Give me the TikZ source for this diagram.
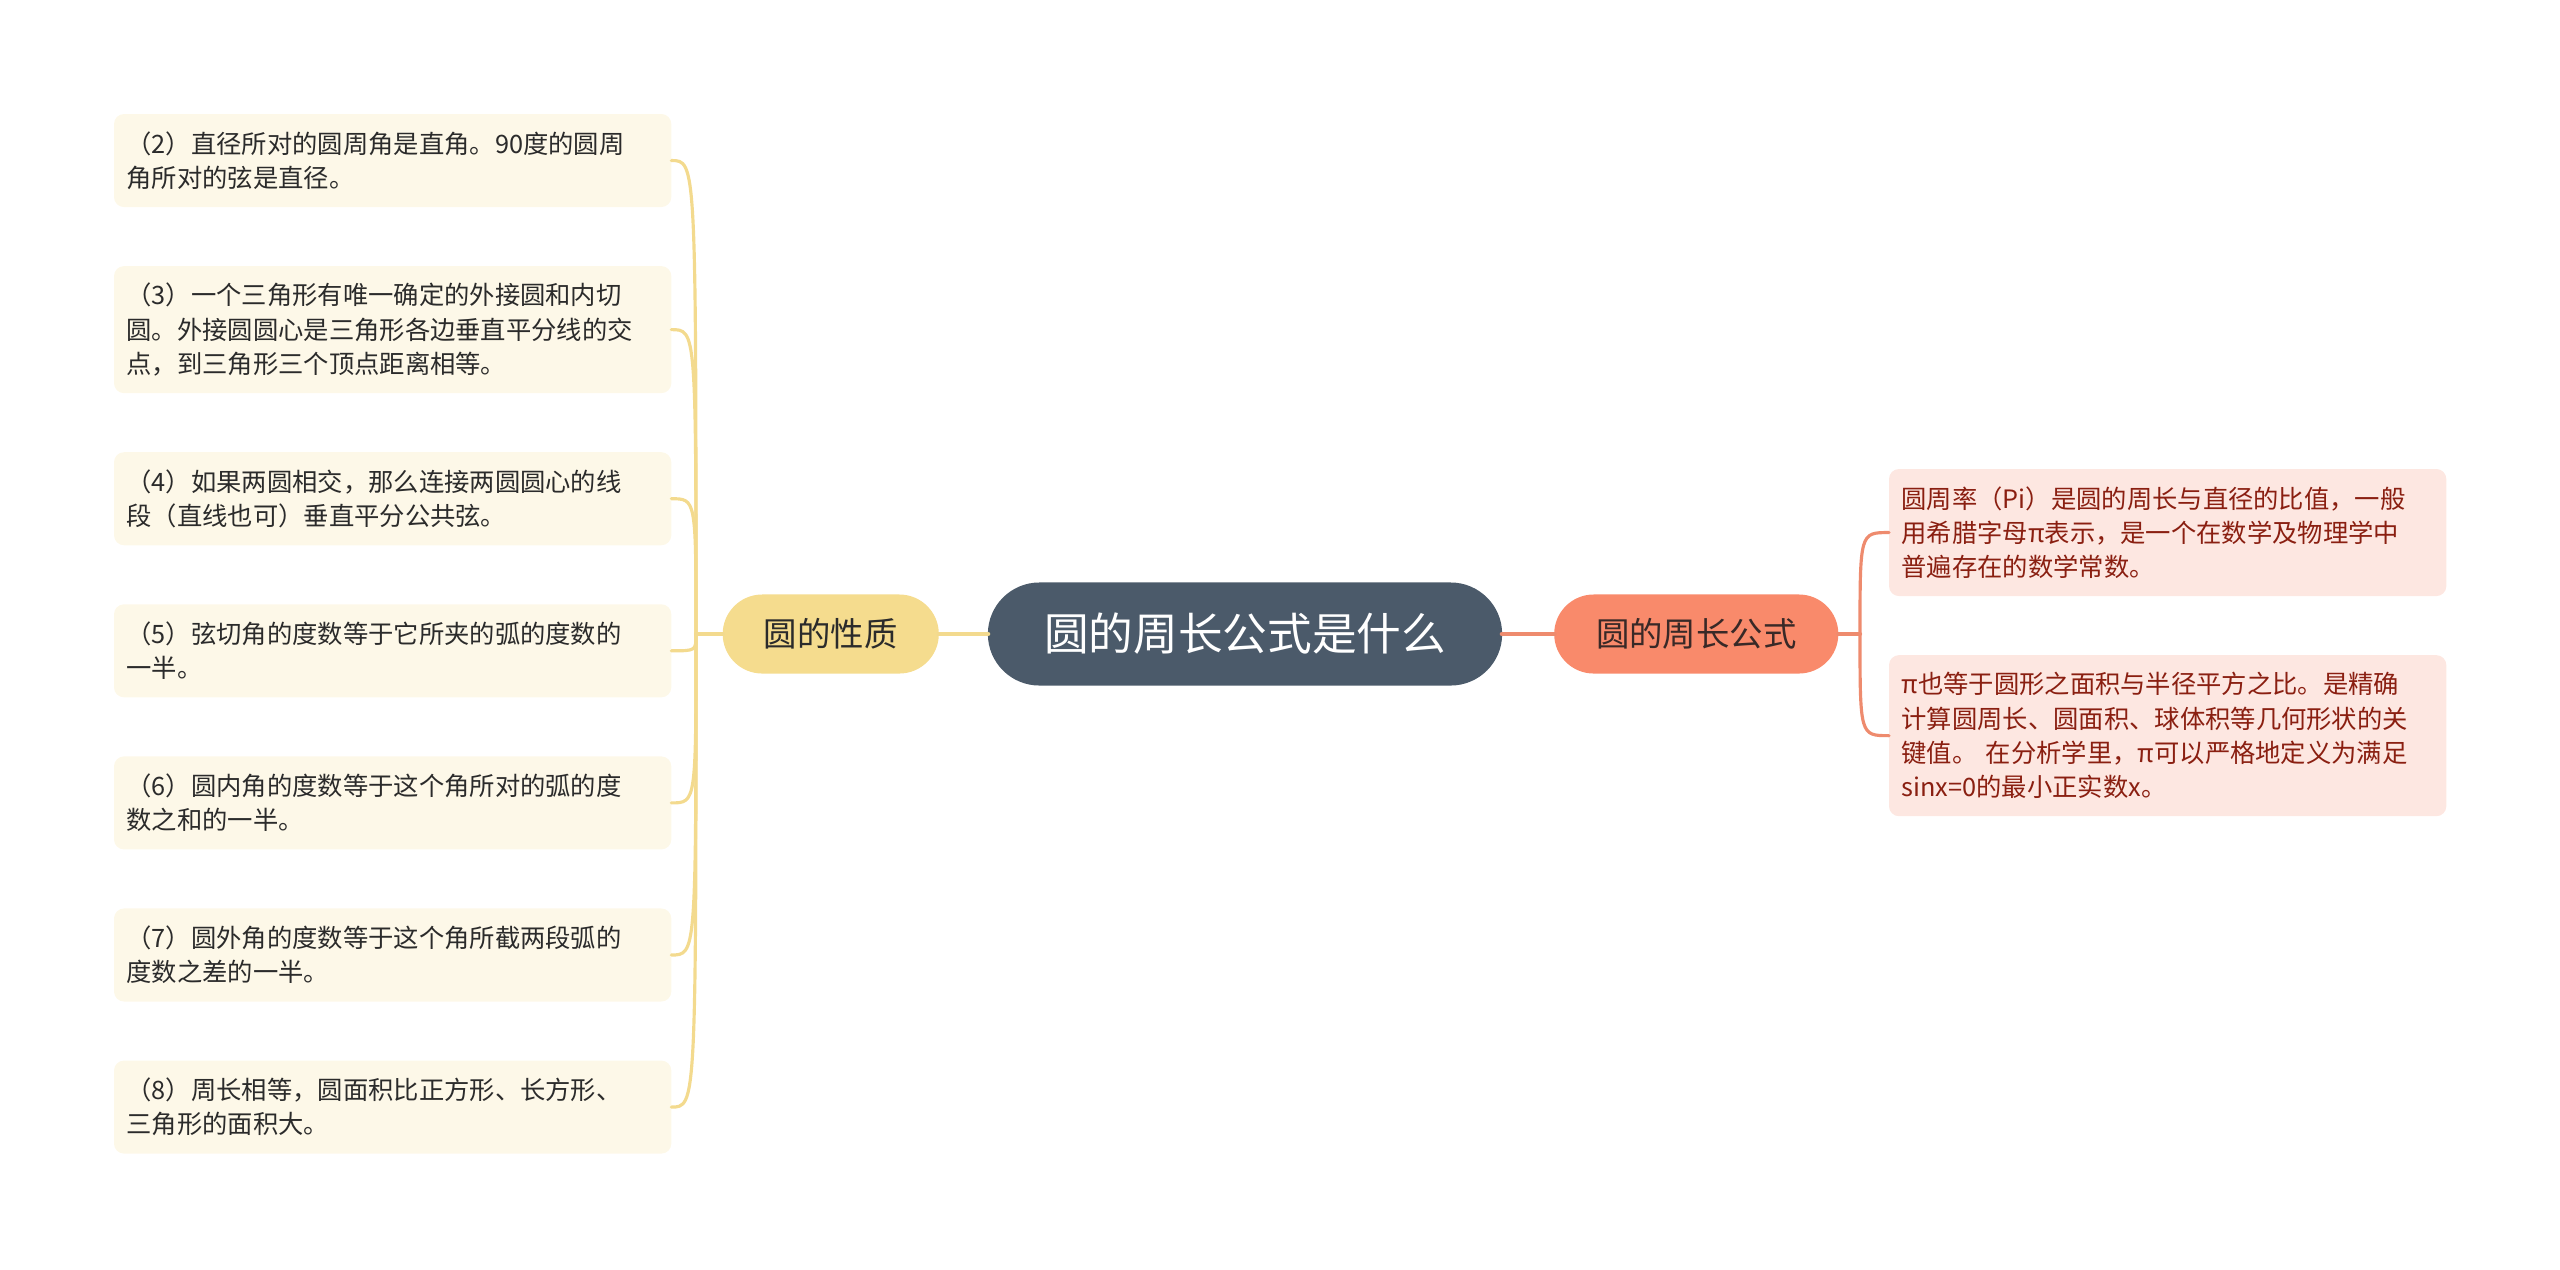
\documentclass[tikz,border=0pt]{standalone}
\usepackage{fontspec}
\setmainfont{Noto Sans CJK SC}
\usepackage{tikz}
\usetikzlibrary{positioning,calc}
\usepackage{xcolor}
\definecolor{hubfill}{HTML}{4B5A6A}
\definecolor{yfill}{HTML}{F5DC8E}
\definecolor{yline}{HTML}{F3DA8E}
\definecolor{ynote}{HTML}{FDF8E8}
\definecolor{rfill}{HTML}{F98A6B}
\definecolor{rline}{HTML}{EE8B6E}
\definecolor{rnote}{HTML}{FDE7E1}
\definecolor{rtext}{HTML}{8A1F11}
\definecolor{dtext}{HTML}{2B2B2B}
\tikzset{
	mindmap/.style={x=0.01cm,y=-0.01cm,line cap=round,semithick},
	hub/.style={rounded corners=0.515cm,fill=hubfill,text=white,minimum width=5.14cm,
		minimum height=1.03cm,inner sep=0pt,outer sep=0pt,font=\fontsize{12.7}{14}\selectfont},
	branch/.style={rounded corners=0.395cm,minimum height=0.79cm,inner sep=0pt,outer sep=0pt,
		font=\fontsize{9.5}{11}\selectfont},
	branchL/.style={branch,fill=yfill,text=dtext,minimum width=2.16cm},
	branchR/.style={branch,fill=rfill,text=dtext!85!rtext,minimum width=2.84cm},
	note/.style={rounded corners=0.1cm,text width=5.32cm,inner xsep=0.125cm,inner ysep=0.1cm,
		outer sep=0pt,align=left,font=\fontsize{7.2}{9.76}\selectfont,minimum height=0.93cm},
	noteL/.style={note,fill=ynote,text=dtext},
	noteR/.style={note,fill=rnote,text=rtext},
	linkL/.style={draw=yline,line width=0.9pt},
	linkR/.style={draw=rline,line width=0.9pt}
}

\begin{document}
\begin{tikzpicture}[mindmap]
	\useasboundingbox (0,0) rectangle (2560,1269);
	
	\node[hub] (root) at (1245,634) {圆的周长公式是什么};
	\node[branchL] (prop) [left=0.49cm of root] {圆的性质};
	\node[branchR] (form) [right=0.52cm of root] {圆的周长公式};
	
	\node[noteL,anchor=north west] (l1) at (114,114) {（2）直径所对的圆周角是直角。90度的圆周\\角所对的弦是直径。};
	\node[noteL,minimum height=1.27cm] (l2) [below=0.59cm of l1] {（3）一个三角形有唯一确定的外接圆和内切\\圆。外接圆圆心是三角形各边垂直平分线的交\\点，到三角形三个顶点距离相等。};
	\node[noteL] (l3) [below=0.59cm of l2] {（4）如果两圆相交，那么连接两圆圆心的线\\段（直线也可）垂直平分公共弦。};
	\node[noteL] (l4) [below=0.59cm of l3] {（5）弦切角的度数等于它所夹的弧的度数的\\一半。};
	\node[noteL] (l5) [below=0.59cm of l4] {（6）圆内角的度数等于这个角所对的弧的度\\数之和的一半。};
	\node[noteL] (l6) [below=0.59cm of l5] {（7）圆外角的度数等于这个角所截两段弧的\\度数之差的一半。};
	\node[noteL] (l7) [below=0.59cm of l6] {（8）周长相等，圆面积比正方形、长方形、\\三角形的面积大。};
	
	\node[noteR,minimum height=1.27cm,anchor=north west] (r1) at (1889,469) {圆周率（Pi）是圆的周长与直径的比值，一般\\用希腊字母π表示，是一个在数学及物理学中\\普遍存在的数学常数。};
	\node[noteR,minimum height=1.61cm] (r2) [below=0.59cm of r1] {π也等于圆形之面积与半径平方之比。是精确\\计算圆周长、圆面积、球体积等几何形状的关\\键值。 在分析学里，π可以严格地定义为满足\\sinx=0的最小正实数x。};
	
	\coordinate (jl) at (696,634);
	\coordinate (jr) at (1860,634);
	
	\path[linkL,line width=1.4pt] (prop) edge (root);
	\path[linkR,line width=1.4pt] (root) edge (form);
	\path[linkL,line width=1.2pt] (prop.west) edge (jl);
	\path[linkR,line width=1.2pt] (form.east) edge (jr);
	
	\draw[linkL] (jl) .. controls (jl |- l1.east) .. (l1.east);
	\draw[linkL] (jl) .. controls (jl |- l2.east) .. (l2.east);
	\draw[linkL] (jl) .. controls (jl |- l3.east) .. (l3.east);
	\draw[linkL] (jl) .. controls (jl |- l4.east) .. (l4.east);
	\draw[linkL] (jl) .. controls (jl |- l5.east) .. (l5.east);
	\draw[linkL] (jl) .. controls (jl |- l6.east) .. (l6.east);
	\draw[linkL] (jl) .. controls (jl |- l7.east) .. (l7.east);
	\draw[linkR] (jr) .. controls (jr |- r1.west) .. (r1.west);
	\draw[linkR] (jr) .. controls (jr |- r2.west) .. (r2.west);
	
\end{tikzpicture}
\end{document}
